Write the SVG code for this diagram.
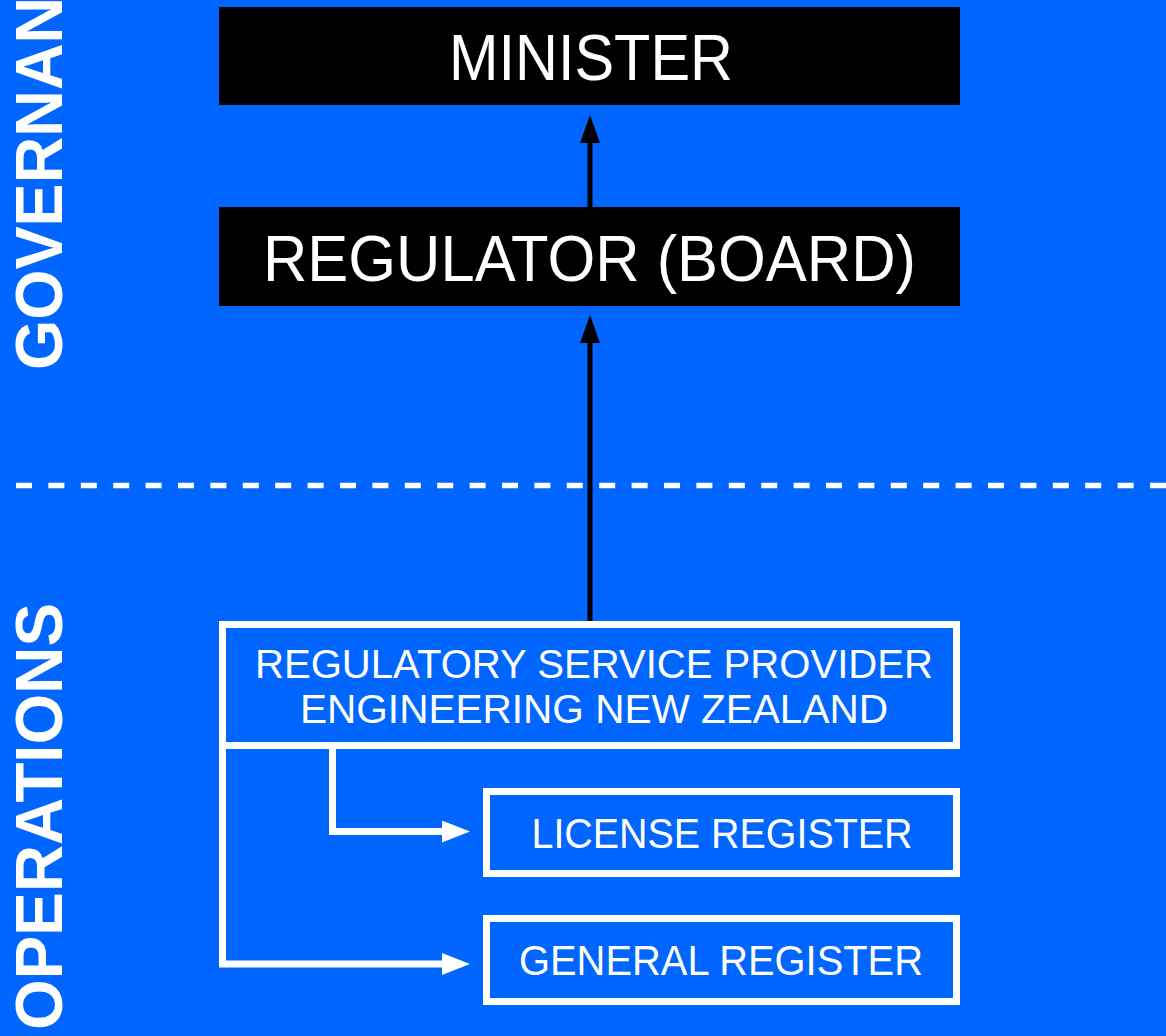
<svg xmlns="http://www.w3.org/2000/svg" width="1166" height="1036" viewBox="0 0 1166 1036">
  <style>
    .bg { fill: #0066FF; }
    .black-box { fill: #000000; }
    .white-box { fill: none; stroke: #FFFFFF; stroke-width: 7; }
    .title { font-family: "Liberation Sans", Arial, sans-serif; fill: #FFFFFF; font-size: 65px; text-anchor: middle; }
    .label { font-family: "Liberation Sans", Arial, sans-serif; fill: #FFFFFF; font-size: 42px; text-anchor: middle; }
    .label-sm { font-family: "Liberation Sans", Arial, sans-serif; fill: #FFFFFF; font-size: 40px; text-anchor: middle; }
    .section { font-family: "Liberation Sans", Arial, sans-serif; fill: #FFFFFF; font-size: 66px; font-weight: bold; }
    .divider { stroke: #FFFFFF; stroke-width: 5.5; stroke-dasharray: 16 16.4; fill: none; }
    .conn-black { stroke: #000000; stroke-width: 5; fill: none; }
    .conn-white { stroke: #FFFFFF; stroke-width: 7; fill: none; }
  </style>
  <defs>
    <marker id="arrowBlack" markerUnits="userSpaceOnUse" markerWidth="28" markerHeight="20" viewBox="0 0 28 20" refX="0" refY="10" orient="auto">
      <path d="M0,0 L28,10 L0,20 Z" fill="#000000"/>
    </marker>
    <marker id="arrowWhite" markerUnits="userSpaceOnUse" markerWidth="28" markerHeight="22" viewBox="0 0 28 22" refX="0" refY="11" orient="auto">
      <path d="M0,0 L28,11 L0,22 Z" fill="#FFFFFF"/>
    </marker>
  </defs>

  <rect class="bg" x="0" y="0" width="1166" height="1036"/>

  <g id="section-labels">
    <text class="section" transform="translate(62,370) rotate(-90)" textLength="463" lengthAdjust="spacingAndGlyphs">GOVERNANCE</text>
    <text class="section" transform="translate(62,1030) rotate(-90)" textLength="427" lengthAdjust="spacingAndGlyphs">OPERATIONS</text>
  </g>

  <line id="governance-operations-divider" class="divider" x1="16" y1="485.5" x2="1166" y2="485.5"/>

  <g id="connectors">
    <path class="conn-black" d="M590,207 V143" marker-end="url(#arrowBlack)"/>
    <path class="conn-black" d="M590,621 V343" marker-end="url(#arrowBlack)"/>
    <path class="conn-white" d="M332.5,749 V831.5 H442" marker-end="url(#arrowWhite)"/>
    <path class="conn-white" d="M222.5,745 V964 H442" marker-end="url(#arrowWhite)"/>
  </g>

  <g id="minister">
    <rect class="black-box" x="219" y="7" width="741" height="98"/>
    <text class="title" x="591" y="80" textLength="284" lengthAdjust="spacingAndGlyphs">MINISTER</text>
  </g>

  <g id="regulator">
    <rect class="black-box" x="219" y="207" width="741" height="99"/>
    <text class="title" x="589.5" y="281" textLength="653" lengthAdjust="spacingAndGlyphs">REGULATOR (BOARD)</text>
  </g>

  <g id="service-provider">
    <rect class="white-box" x="222.5" y="624.5" width="734" height="121"/>
    <text class="label-sm" x="594" y="677.5" textLength="678" lengthAdjust="spacingAndGlyphs">REGULATORY SERVICE PROVIDER</text>
    <text class="label-sm" x="594" y="723" textLength="588" lengthAdjust="spacingAndGlyphs">ENGINEERING NEW ZEALAND</text>
  </g>

  <g id="license-register">
    <rect class="white-box" x="486.5" y="791.5" width="470" height="82"/>
    <text class="label" x="722" y="848" textLength="381" lengthAdjust="spacingAndGlyphs">LICENSE REGISTER</text>
  </g>

  <g id="general-register">
    <rect class="white-box" x="486.5" y="918.5" width="470" height="83"/>
    <text class="label" x="721" y="975" textLength="404" lengthAdjust="spacingAndGlyphs">GENERAL REGISTER</text>
  </g>
</svg>
